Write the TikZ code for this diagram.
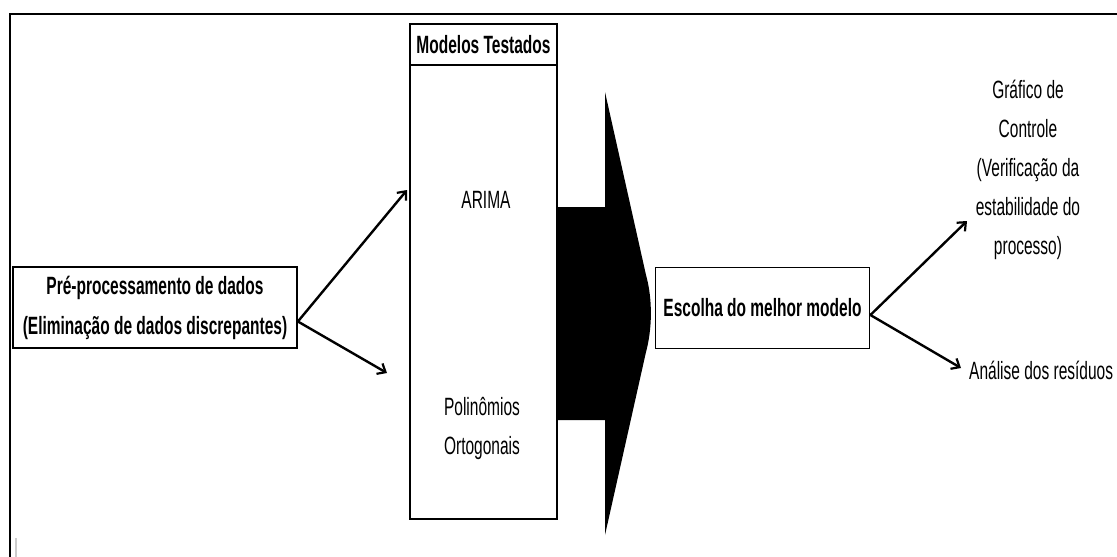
\documentclass[tikz,border=0pt]{standalone}
\usepackage{fontspec}
\setmainfont{Liberation Sans}
\newfontfamily\cond[FakeStretch=0.62]{Liberation Sans}
\usetikzlibrary{arrows.meta,calc}
\tikzset{
  lbl/.style={font=\cond\fontsize{25}{39}\selectfont, align=center, inner sep=0pt, text=black},
  blbl/.style={font=\cond\bfseries\fontsize{25}{40}\selectfont, align=center, inner sep=0pt, text=black},
  box/.style={draw=black, line width=1.8pt, inner sep=0pt},
  conn/.style={line width=2.4pt, -{Straight Barb[length=7pt,width=12pt,line width=2.2pt]}},
}
\begin{document}
\begin{tikzpicture}[x=1pt,y=-1pt]
\useasboundingbox (0,0) rectangle (1117,557);
% outer frame (partly cut off)
\draw[line width=2.2pt] (10,557) -- (10,14) -- (1117,14);
\draw[line width=1.5pt, black!20] (16,538) -- (16,557);
% pre-processing box
\node[box, blbl, minimum width=284pt, minimum height=81pt] (pre) at (155,307.5)
  {Pré-processamento de dados\\(Eliminação de dados discrepantes)};
% models box
\node[box, blbl, minimum width=147pt, minimum height=41pt, anchor=north] (hdr) at (483.5,23) {Modelos Testados};
\node[box, minimum width=147pt, minimum height=454pt, anchor=north] (models) at (483.5,64) {};
\node[lbl] (arima) at (486,200) {ARIMA};
\node[lbl] (poli) at (482,428) {Polinômios\\Ortogonais};
% big arrow
\fill[black] (models.east |- 0,207) -- (605,207) -- (605,92) -- (646,275)
  .. controls (653,300) and (652,330) .. (646,352) -- (605,535) -- (605,420)
  -- (models.east |- 0,420) -- cycle;
% choice box
\node[box, blbl, minimum width=214pt, minimum height=81pt] (esc) at (762.5,308) {Escolha do melhor modelo};
% outputs
\node[lbl] (graf) at (1028,170) {Gráfico de\\Controle\\(Verificação da\\estabilidade do\\processo)};
\node[lbl, anchor=west] (anal) at (969,370) {Análise dos resíduos};
% connectors
\coordinate (a1) at (407,190);
\coordinate (a2) at (387,373);
\coordinate (a3) at (967,221);
\coordinate (a4) at (961,368);
\draw[conn] ([yshift=-14pt]pre.east) -- (a1);
\draw[conn] ([yshift=-14pt]pre.east) -- (a2);
\draw[conn] ([yshift=-7pt]esc.east) -- (a3);
\draw[conn] ([yshift=-7pt]esc.east) -- (a4);
\end{tikzpicture}
\end{document}
